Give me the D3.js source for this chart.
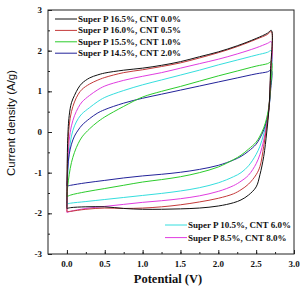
<!DOCTYPE html>
<html lang="en">
<head>
<meta charset="utf-8">
<title>CV curves</title>
<script src="https://d3js.org/d3.v7.min.js"></script>
<style>
  body { margin: 0; background: #fff; }
  .tick-label { font-family: "Liberation Serif", "Times New Roman", serif; font-weight: bold; font-size: 9px; fill: #111; }
  .legend text { font-family: "Liberation Serif", "Times New Roman", serif; font-weight: bold; font-size: 9px; fill: #111; }
</style>
</head>
<body>
<svg id="chart" width="301" height="290"></svg>
<script>
// ---- data ------------------------------------------------------
// potential grid (V) for the forward (anodic) and reverse (cathodic) scans
var forwardV = [0, 0.01, 0.03, 0.06, 0.1, 0.15, 0.2, 0.3, 0.4, 0.5, 0.75, 1.0, 1.25, 1.5, 1.75, 2.0, 2.25, 2.5, 2.65, 2.7];
var reverseV = [2.69, 2.67, 2.64, 2.6, 2.55, 2.5, 2.4, 2.3, 2.2, 2.0, 1.75, 1.5, 1.25, 1.0, 0.75, 0.5, 0.25, 0.05, 0];

// current density (A/g), one pair of arrays per electrode
var cnt00Fwd = [-1.88, -0.2, 0.4, 0.72, 0.9, 1.08, 1.2, 1.33, 1.4, 1.45, 1.52, 1.57, 1.64, 1.73, 1.85, 1.97, 2.12, 2.3, 2.43, 2.5];
var cnt00Rev = [1.5, 0.6, 0.0, -0.6, -1.05, -1.35, -1.55, -1.67, -1.74, -1.82, -1.87, -1.89, -1.9, -1.9, -1.88, -1.84, -1.84, -1.86, -1.88];

var cnt05Fwd = [-1.96, -0.5, 0.15, 0.5, 0.74, 0.93, 1.05, 1.18, 1.27, 1.34, 1.46, 1.53, 1.61, 1.7, 1.82, 1.95, 2.1, 2.28, 2.4, 2.47];
var cnt05Rev = [1.4, 0.6, 0.15, -0.35, -0.85, -1.05, -1.28, -1.42, -1.52, -1.63, -1.72, -1.79, -1.84, -1.87, -1.88, -1.87, -1.9, -1.95, -1.96];

var cnt10Fwd = [-1.59, -1.35, -1.05, -0.75, -0.5, -0.28, -0.12, 0.08, 0.24, 0.37, 0.63, 0.86, 1.0, 1.12, 1.25, 1.38, 1.5, 1.62, 1.68, 1.72];
var cnt10Rev = [1.1, 0.65, 0.35, 0.1, -0.1, -0.25, -0.42, -0.57, -0.68, -0.86, -1.0, -1.1, -1.17, -1.23, -1.31, -1.39, -1.47, -1.55, -1.59];

var cnt20Fwd = [-1.33, -0.9, -0.55, -0.3, -0.1, 0.05, 0.17, 0.33, 0.46, 0.55, 0.71, 0.83, 0.93, 1.03, 1.13, 1.23, 1.33, 1.43, 1.48, 1.52];
var cnt20Rev = [1.0, 0.6, 0.3, 0.05, -0.15, -0.3, -0.47, -0.6, -0.69, -0.82, -0.92, -0.99, -1.04, -1.08, -1.13, -1.19, -1.25, -1.31, -1.33];

var cnt60Fwd = [-1.77, -1.1, -0.5, -0.1, 0.15, 0.33, 0.45, 0.6, 0.74, 0.85, 1.02, 1.16, 1.28, 1.4, 1.52, 1.65, 1.77, 1.89, 1.96, 2.0];
var cnt60Rev = [1.2, 0.6, 0.25, -0.05, -0.35, -0.55, -0.83, -1.0, -1.1, -1.25, -1.37, -1.45, -1.51, -1.56, -1.61, -1.66, -1.71, -1.75, -1.77];

var cnt80Fwd = [-1.98, -0.9, -0.2, 0.15, 0.4, 0.6, 0.74, 0.9, 1.03, 1.13, 1.27, 1.37, 1.46, 1.57, 1.68, 1.79, 1.92, 2.07, 2.18, 2.22];
var cnt80Rev = [1.3, 0.6, 0.2, -0.2, -0.55, -0.78, -1.06, -1.21, -1.32, -1.46, -1.57, -1.64, -1.69, -1.73, -1.78, -1.83, -1.88, -1.95, -1.98];

var seriesNames = [
  'Super P 16.5%, CNT 0.0%',
  'Super P 16.0%, CNT 0.5%',
  'Super P 15.5%, CNT 1.0%',
  'Super P 14.5%, CNT 2.0%',
  'Super P 10.5%, CNT 6.0%',
  'Super P 8.5%, CNT 8.0%'
];
var seriesColors = ['#111111', '#c43a3a', '#2ccc2c', '#23239a', '#35dede', '#e03ce0'];
var seriesFwd = [cnt00Fwd, cnt05Fwd, cnt10Fwd, cnt20Fwd, cnt60Fwd, cnt80Fwd];
var seriesRev = [cnt00Rev, cnt05Rev, cnt10Rev, cnt20Rev, cnt60Rev, cnt80Rev];

var xTicks = [0, 0.5, 1.0, 1.5, 2.0, 2.5, 3.0];
var yTicks = [-3, -2, -1, 0, 1, 2, 3];

// ---- scales ----------------------------------------------------
var plotLeft = 48, plotRight = 294, plotTop = 10, plotBottom = 254;

var x = d3.scaleLinear().domain([-0.25, 3.0]).range([plotLeft, plotRight]);
var y = d3.scaleLinear().domain([-3, 3]).range([plotBottom, plotTop]);

var svg = d3.select('#chart');

svg.append('defs').append('clipPath').attr('id', 'plot-clip')
  .append('rect')
  .attr('x', plotLeft).attr('y', plotTop)
  .attr('width', plotRight - plotLeft).attr('height', plotBottom - plotTop);

// ---- axes (ticks point inward) ---------------------------------
var xMinor = d3.range(0, 3.01, 0.25);
var yMinor = d3.range(-3, 3.01, 0.5);

function tickGroup(axis, transform) {
  svg.append('g').attr('transform', transform).call(axis)
    .call(function(g) { g.select('.domain').remove(); })
    .selectAll('line').attr('stroke', '#222');
}
tickGroup(d3.axisBottom(x).tickValues(xMinor).tickSize(-2).tickFormat(''), 'translate(0,' + plotBottom + ')');
tickGroup(d3.axisLeft(y).tickValues(yMinor).tickSize(-2).tickFormat(''), 'translate(' + plotLeft + ',0)');
tickGroup(d3.axisBottom(x).tickValues(xTicks).tickSize(-4).tickFormat(''), 'translate(0,' + plotBottom + ')');
tickGroup(d3.axisLeft(y).tickValues(yTicks).tickSize(-4).tickFormat(''), 'translate(' + plotLeft + ',0)');

svg.append('g').selectAll('text')
  .data(xTicks)
  .enter()
  .append('text')
  .attr('class', 'tick-label')
  .attr('x', function(d) { return x(d); })
  .attr('y', plotBottom + 13)
  .attr('text-anchor', 'middle')
  .text(function(d) { return d.toFixed(1); });

svg.append('g').selectAll('text')
  .data(yTicks)
  .enter()
  .append('text')
  .attr('class', 'tick-label')
  .attr('x', plotLeft - 6)
  .attr('y', function(d) { return y(d) + 3; })
  .attr('text-anchor', 'end')
  .text(function(d) { return d; });

// ---- curves ----------------------------------------------------
var line = d3.line()
  .x(function(d) { return x(d[0]); })
  .y(function(d) { return y(d[1]); })
  .curve(d3.curveCatmullRom.alpha(0.5));

var loops = seriesNames.map(function(name, i) {
  var pts = forwardV.map(function(v, j) { return [v, seriesFwd[i][j]]; });
  reverseV.forEach(function(v, j) { pts.push([v, seriesRev[i][j]]); });
  return { name: name, color: seriesColors[i], pts: pts };
});

var drawOrder = [4, 5, 3, 2, 1, 0];

svg.append('g').attr('clip-path', 'url(#plot-clip)')
  .selectAll('path')
  .data(drawOrder.map(function(i) { return loops[i]; }))
  .enter()
  .append('path')
  .attr('d', function(d) { return line(d.pts); })
  .attr('fill', 'none')
  .attr('stroke', function(d) { return d.color; })
  .attr('stroke-width', 1);

// frame
svg.append('rect')
  .attr('x', plotLeft).attr('y', plotTop)
  .attr('width', plotRight - plotLeft).attr('height', plotBottom - plotTop)
  .attr('fill', 'none')
  .attr('stroke', '#222')
  .attr('stroke-width', 1);

// ---- legends ---------------------------------------------------
function legend(idx, x0, y0, step) {
  var g = svg.append('g').attr('class', 'legend');
  var rows = g.selectAll('g')
    .data(idx)
    .enter()
    .append('g')
    .attr('transform', function(d, i) { return 'translate(' + x0 + ',' + (y0 + i * step) + ')'; });
  rows.append('line')
    .attr('x1', 0).attr('x2', 22)
    .attr('stroke', function(d) { return seriesColors[d]; })
    .attr('stroke-width', 1);
  rows.append('text')
    .attr('x', 23)
    .attr('y', 3)
    .text(function(d) { return seriesNames[d]; });
}
legend([0, 1, 2, 3], 55, 19, 11.4);
legend([4, 5], 165, 225, 12.6);

// ---- axis titles -----------------------------------------------
svg.append('text')
  .attr('transform', 'translate(15,123) rotate(-90)')
  .attr('text-anchor', 'middle')
  .style('font-family', '"Liberation Sans", Arial, sans-serif')
  .style('font-size', '11.5px')
  .style('fill', '#111')
  .text('Current density (A/g)');

svg.append('text')
  .attr('x', 168)
  .attr('y', 283)
  .attr('text-anchor', 'middle')
  .style('font-family', '"Liberation Serif", "Times New Roman", serif')
  .style('font-weight', 'bold')
  .style('font-size', '12.5px')
  .style('fill', '#111')
  .text('Potential (V)');
</script>
</body>
</html>
